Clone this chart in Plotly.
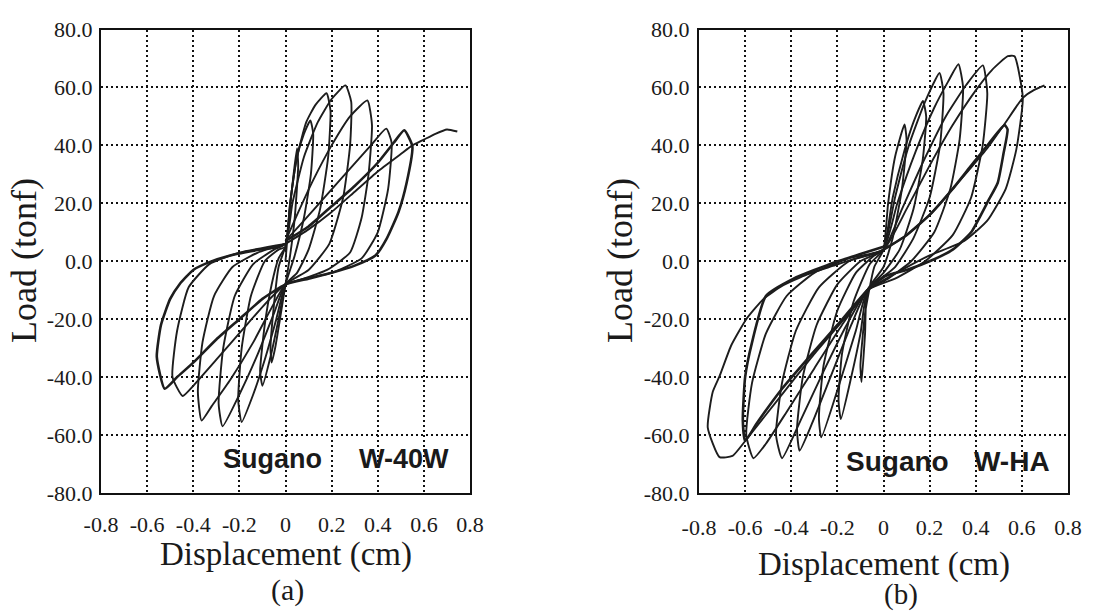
import plotly.graph_objects as go

# ---------------- data ----------------
x_ticks = [-0.8, -0.6, -0.4, -0.2, 0.0, 0.2, 0.4, 0.6, 0.8]
x_tick_text = ["-0.8", "-0.6", "-0.4", "-0.2", "0", "0.2", "0.4", "0.6", "0.8"]
y_ticks = [-80, -60, -40, -20, 0, 20, 40, 60, 80]
y_tick_text = ["-80.0", "-60.0", "-40.0", "-20.0", "0.0", "20.0", "40.0", "60.0", "80.0"]

# Panel (a) : Sugano W-40W  (displacement cm, load tonf)
w40w_loop0 = [(0.0, 0), (0.015, 15), (0.035, 30), (0.05, 39), (0.055, 33), (0.04, 15), (0.02, 2),
              (0.0, -8), (-0.02, -18), (-0.045, -30), (-0.06, -35), (-0.065, -30), (-0.05, -15),
              (-0.03, -2), (0.0, 5)]
w40w_loop1 = [(0.0, 5), (0.02, 20), (0.05, 36), (0.08, 44), (0.108, 48.6), (0.12, 44), (0.11, 30),
              (0.08, 15), (0.04, 2), (0.0, -8), (-0.03, -20), (-0.065, -33), (-0.10, -43),
              (-0.11, -38), (-0.09, -22), (-0.06, -8), (-0.03, 1), (0.0, 5)]
w40w_loop2 = [(0.0, 5), (0.02, 20), (0.05, 36), (0.09, 48), (0.13, 54), (0.178, 58), (0.195, 52),
              (0.185, 36), (0.15, 18), (0.1, 4), (0.05, -4), (0.0, -8), (-0.04, -20), (-0.09, -34),
              (-0.14, -46), (-0.19, -55.5), (-0.205, -48), (-0.19, -30), (-0.15, -12), (-0.09, 0),
              (-0.03, 4), (0.0, 5)]
w40w_loop3 = [(0.0, 6), (0.03, 20), (0.08, 36), (0.14, 48), (0.2, 56), (0.26, 60.7), (0.285, 55),
              (0.28, 40), (0.25, 22), (0.19, 6), (0.1, -3), (0.0, -8), (-0.05, -18), (-0.12, -32),
              (-0.2, -46), (-0.273, -57), (-0.29, -49), (-0.27, -30), (-0.22, -12), (-0.14, -1),
              (-0.05, 4), (0.0, 6)]
w40w_loop4 = [(0.0, 7), (0.05, 16), (0.12, 28), (0.2, 40), (0.28, 50), (0.355, 55.5), (0.375, 47),
              (0.36, 30), (0.33, 15), (0.28, 3), (0.18, -3), (0.08, -6), (0.0, -8), (-0.06, -16),
              (-0.14, -28), (-0.24, -41), (-0.32, -50), (-0.364, -55), (-0.38, -45), (-0.36, -28),
              (-0.31, -12), (-0.23, -2), (-0.12, 3), (0.0, 6)]
w40w_loop5 = [(0.0, 7), (0.08, 14), (0.18, 23), (0.28, 32), (0.37, 40), (0.437, 45.8), (0.46, 41),
              (0.445, 25), (0.4, 10), (0.33, 1), (0.2, -4), (0.08, -6), (0.0, -8), (-0.08, -14),
              (-0.18, -23), (-0.3, -34), (-0.4, -43), (-0.446, -46.5), (-0.49, -40), (-0.47, -24),
              (-0.42, -9), (-0.33, -1), (-0.2, 3), (0.0, 6)]
w40w_loop6 = [(0.0, 7), (0.1, 12), (0.2, 19), (0.3, 26), (0.4, 34), (0.47, 41), (0.515, 45.2),
              (0.55, 39.7), (0.525, 27), (0.49, 17), (0.44, 8), (0.39, 2), (0.3, -1.5), (0.2, -4),
              (0.1, -6), (0.0, -8), (-0.1, -13), (-0.2, -20), (-0.3, -27), (-0.4, -35), (-0.47, -40),
              (-0.524, -44), (-0.558, -33), (-0.54, -22), (-0.5, -13), (-0.46, -8), (-0.4, -3),
              (-0.33, -0.3), (-0.24, 2), (-0.15, 3.5), (-0.03, 5), (0.0, 6)]
w40w_final = [(0.0, 6), (0.1, 11), (0.2, 17), (0.3, 24), (0.4, 31), (0.5, 37), (0.55, 40),
              (0.6, 42), (0.65, 44), (0.7, 45.5), (0.745, 44.8)]

# Panel (b) : Sugano W-HA
wha_loop0 = [(0.0, 4), (0.02, 20), (0.05, 36), (0.091, 47.2), (0.1, 42), (0.08, 25), (0.04, 8),
             (0.0, -2), (-0.07, -10), (-0.08, -25), (-0.095, -41.7), (-0.1, -36), (-0.08, -18),
             (-0.04, -2), (0.0, 4)]
wha_loop1 = [(0.0, 4), (0.04, 22), (0.09, 38), (0.13, 48), (0.171, 55.3), (0.185, 50), (0.17, 35),
             (0.13, 18), (0.07, 4), (0.0, -4), (-0.07, -10), (-0.1, -25), (-0.14, -40),
             (-0.185, -54.5), (-0.195, -48), (-0.18, -32), (-0.13, -14), (-0.06, -1), (0.0, 4)]
wha_loop2 = [(0.0, 4), (0.05, 22), (0.11, 40), (0.18, 55), (0.243, 65), (0.26, 58), (0.245, 40),
             (0.2, 22), (0.13, 8), (0.05, -2), (-0.07, -10), (-0.12, -24), (-0.19, -42),
             (-0.27, -60.8), (-0.28, -54), (-0.26, -36), (-0.2, -17), (-0.12, -4), (-0.04, 2),
             (0.0, 4)]
wha_loop3 = [(0.0, 4), (0.06, 20), (0.14, 38), (0.22, 53), (0.28, 62), (0.325, 68), (0.345, 60),
             (0.33, 42), (0.29, 25), (0.22, 10), (0.12, 0), (0.02, -6), (-0.07, -10), (-0.14, -22),
             (-0.23, -40), (-0.31, -56), (-0.364, -65.4), (-0.375, -58), (-0.35, -40), (-0.29, -22),
             (-0.2, -8), (-0.1, 0), (0.0, 4)]
wha_loop4 = [(0.0, 4), (0.08, 18), (0.17, 34), (0.27, 50), (0.36, 61), (0.431, 67.6), (0.45, 58),
             (0.43, 40), (0.38, 22), (0.3, 9), (0.18, 0), (0.05, -6), (-0.07, -10), (-0.16, -22),
             (-0.26, -38), (-0.36, -55), (-0.44, -68), (-0.466, -60), (-0.44, -42), (-0.38, -24),
             (-0.28, -9), (-0.15, 0), (0.0, 4)]
wha_loop5 = [(0.0, 4), (0.1, 18), (0.2, 33), (0.3, 47), (0.4, 59), (0.47, 66), (0.539, 70.8),
             (0.568, 70.8), (0.604, 56.4), (0.576, 38.6), (0.53, 25), (0.45, 14), (0.35, 7),
             (0.2, 2), (0.08, -3), (-0.07, -10), (-0.18, -22), (-0.3, -37), (-0.42, -52),
             (-0.51, -63), (-0.564, -68), (-0.595, -60), (-0.57, -42), (-0.51, -25), (-0.42, -12),
             (-0.3, -4), (-0.15, 1), (0.0, 4)]
wha_loop6 = [(-0.07, -10), (-0.15, -18), (-0.3, -32), (-0.45, -47), (-0.58, -60), (-0.655, -67.2),
             (-0.711, -67.6), (-0.762, -57.4), (-0.74, -45), (-0.71, -39.5), (-0.66, -29),
             (-0.595, -20), (-0.52, -13), (-0.44, -8.5), (-0.33, -4.5), (-0.22, -1.6),
             (-0.12, 1), (-0.03, 3), (0.0, 4)]
wha_loop7 = [(0.0, 4), (0.1, 9), (0.2, 16), (0.3, 25), (0.38, 33), (0.46, 41), (0.525, 47),
             (0.538, 45.5), (0.52, 37), (0.495, 27), (0.455, 21), (0.38, 10), (0.3, 4),
             (0.22, 0.7), (0.1, -3), (0.01, -5), (-0.07, -10), (-0.2, -22), (-0.3, -31),
             (-0.44, -44), (-0.55, -56), (-0.6, -62), (-0.61, -55), (-0.6, -40), (-0.57, -28),
             (-0.51, -12), (-0.39, -6), (-0.21, -0.3), (-0.1, 2.5), (0.0, 5)]
wha_final = [(0.0, 4), (0.1, 9), (0.2, 16), (0.3, 25), (0.373, 31.7), (0.45, 39), (0.53, 48),
             (0.604, 56.4), (0.65, 59), (0.698, 60.7)]

panel_a_loops = [w40w_loop0, w40w_loop1, w40w_loop2, w40w_loop3, w40w_loop4, w40w_loop5,
                 w40w_loop6, w40w_final]
panel_b_loops = [wha_loop0, wha_loop1, wha_loop2, wha_loop3, wha_loop4, wha_loop5,
                 wha_loop6, wha_loop7, wha_final]
thick_a = {6}
thick_b = {7}

# ---------------- figure ----------------
W, H = 1098, 612
fig = go.Figure()

INK = "#1d1d1d"


def add_loops(loops, thick, xa, ya):
    for i, lp in enumerate(loops):
        fig.add_trace(go.Scatter(
            x=[p[0] for p in lp], y=[p[1] for p in lp], mode="lines",
            line=dict(color=INK, width=2.6 if i in thick else 1.9, shape="spline", smoothing=0.5),
            xaxis=xa, yaxis=ya, showlegend=False, hoverinfo="skip"))


add_loops(panel_a_loops, thick_a, "x", "y")
add_loops(panel_b_loops, thick_b, "x2", "y2")

ydom = [(H - 493) / H, (H - 29.5) / H]
serif = "Liberation Serif, Times New Roman, serif"
sans = "Liberation Sans, Arial, sans-serif"

axis_common = dict(
    showline=True, mirror=True, linecolor="#111", linewidth=2,
    showgrid=True, gridcolor="#111", gridwidth=2, griddash="2px,3px",
    zeroline=False, ticks="", tickfont=dict(family=serif, size=22, color="#1a1a1a"),
    fixedrange=True, automargin=False,
)

fig.update_layout(
    width=W, height=H, margin=dict(l=0, r=0, t=0, b=0),
    paper_bgcolor="white", plot_bgcolor="white",
    xaxis=dict(domain=[101 / W, 470 / W], range=[-0.8, 0.8], tickvals=x_ticks,
               ticktext=x_tick_text, anchor="y", ticklabelstandoff=11, **axis_common),
    yaxis=dict(domain=ydom, range=[-80, 80], tickvals=y_ticks, ticktext=y_tick_text,
               anchor="x", ticklabelstandoff=2, **axis_common),
    xaxis2=dict(domain=[699 / W, 1068 / W], range=[-0.8, 0.8], tickvals=x_ticks,
                ticktext=x_tick_text, anchor="y2", ticklabelstandoff=14, **axis_common),
    yaxis2=dict(domain=ydom, range=[-80, 80], tickvals=y_ticks, ticktext=y_tick_text,
                anchor="x2", ticklabelstandoff=3, **axis_common),
)


def ann(text, x, y, size, family, color="#1a1a1a", angle=0, bold=False):
    fig.add_annotation(
        text=f"<b>{text}</b>" if bold else text, x=x / W, y=1 - y / H, xref="paper", yref="paper",
        xanchor="center", yanchor="middle", showarrow=False, textangle=angle,
        font=dict(family=family, size=size, color=color))


# axis titles and panel labels
ann("Load (tonf)", 24, 261, 36, serif, angle=-90)
ann("Load (tonf)", 620, 261, 36, serif, angle=-90)
ann("Displacement (cm)", 286, 554, 33, serif)
ann("Displacement (cm)", 884, 564, 33, serif)
ann("(a)", 287, 590, 30, serif)
ann("(b)", 901, 594, 29, serif)
# specimen labels
ann("Sugano", 272, 459, 27, sans, bold=True)
ann("W-40W", 404, 459, 27, sans, bold=True)
ann("Sugano", 897, 461, 28, sans, bold=True)
ann("W-HA", 1012, 461, 28, sans, bold=True)

fig.write_html("out.html")
